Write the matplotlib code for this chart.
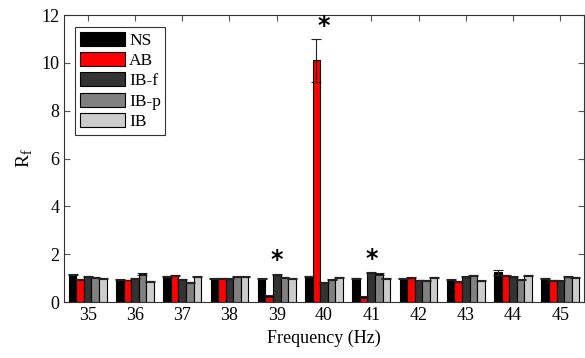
import matplotlib
matplotlib.use("Agg")
import matplotlib.pyplot as plt
import numpy as np

freqs = [35, 36, 37, 38, 39, 40, 41, 42, 43, 44, 45]
series = ["NS", "AB", "IB-f", "IB-p", "IB"]
colors = ["#000000", "#ff0000", "#333333", "#808080", "#cccccc"]
NS   = [1.15, 0.94, 1.07, 0.97, 0.97, 1.08, 1.00, 0.97, 0.94, 1.24, 0.99]
AB   = [0.96, 0.92, 1.11, 1.00, 0.26, 10.1, 0.21, 1.01, 0.875, 1.11, 0.90]
IBf  = [1.07, 1.00, 0.96, 0.97, 1.15, 0.82, 1.22, 0.92, 1.05, 1.05, 0.89]
IBp  = [1.03, 1.18, 0.82, 1.05, 1.03, 0.94, 1.18, 0.90, 1.12, 0.94, 1.05]
IB   = [0.99, 0.875, 1.05, 1.05, 0.99, 1.04, 1.00, 1.03, 0.89, 1.12, 1.04]
NS_err  = [0.03, 0.02, 0.02, 0.02, 0.02, 0.02, 0.02, 0.02, 0.02, 0.09, 0.02]
AB_err  = [0.02, 0.02, 0.03, 0.02, 0.03, 0.90, 0.03, 0.02, 0.02, 0.02, 0.02]
IBf_err = [0.02, 0.02, 0.02, 0.02, 0.02, 0.02, 0.02, 0.02, 0.02, 0.02, 0.02]
IBp_err = [0.02, 0.04, 0.02, 0.02, 0.02, 0.02, 0.03, 0.02, 0.02, 0.02, 0.02]
IB_err  = [0.02, 0.02, 0.02, 0.02, 0.02, 0.02, 0.02, 0.02, 0.02, 0.02, 0.02]
star_freqs = [39, 40, 41]
star_y = [1.75, 11.55, 1.8]

values = [NS, AB, IBf, IBp, IB]
errs = [NS_err, AB_err, IBf_err, IBp_err, IB_err]

plt.rcParams['font.family'] = ['Liberation Serif', 'DejaVu Serif']
fig = plt.figure(figsize=(5.85, 3.58), dpi=100)
ax = fig.add_axes([0.1094, 0.1564, 0.8889, 0.8017])

x = np.array(freqs, dtype=float)
n = len(series)
w = 0.16
for i, (name, vals, e, c) in enumerate(zip(series, values, errs, colors)):
    xs = x + (i - (n - 1) / 2) * w
    ax.bar(xs, vals, width=w, color=c, edgecolor='black', linewidth=0.8, label=name, zorder=2)
    ax.errorbar(xs, vals, yerr=e, fmt='none', ecolor='#222222', elinewidth=0.8,
                capsize=3.5, capthick=0.8, zorder=3)

for f, yv in zip(star_freqs, star_y):
    ax.text(f, yv, '*', ha='center', va='center', fontsize=17, fontweight='bold',
            fontfamily='DejaVu Sans')

ax.set_xlim(34.5, 45.5)
ax.set_ylim(0, 12)
ax.set_xticks(freqs)
ax.set_yticks([0, 2, 4, 6, 8, 10, 12])
ax.tick_params(direction='in', top=True, right=True, labelsize=13, length=4,
               color='#555555', width=0.8)
for s in ax.spines.values():
    s.set_color('#333333')
    s.set_linewidth(0.8)
ax.set_xlabel('Frequency (Hz)', fontsize=13)
ax.set_ylabel('R$_\\mathregular{f}$', fontsize=14)

leg = ax.legend(loc='upper left', bbox_to_anchor=(0.022, 0.957), fontsize=12.5,
                handlelength=2.6, handleheight=0.85, handletextpad=0.25,
                labelspacing=0.2, borderpad=0.25, borderaxespad=0.0,
                fancybox=False, framealpha=1, edgecolor='#333333')
leg.get_frame().set_linewidth(0.8)

fig.savefig('out.png', dpi=100)
